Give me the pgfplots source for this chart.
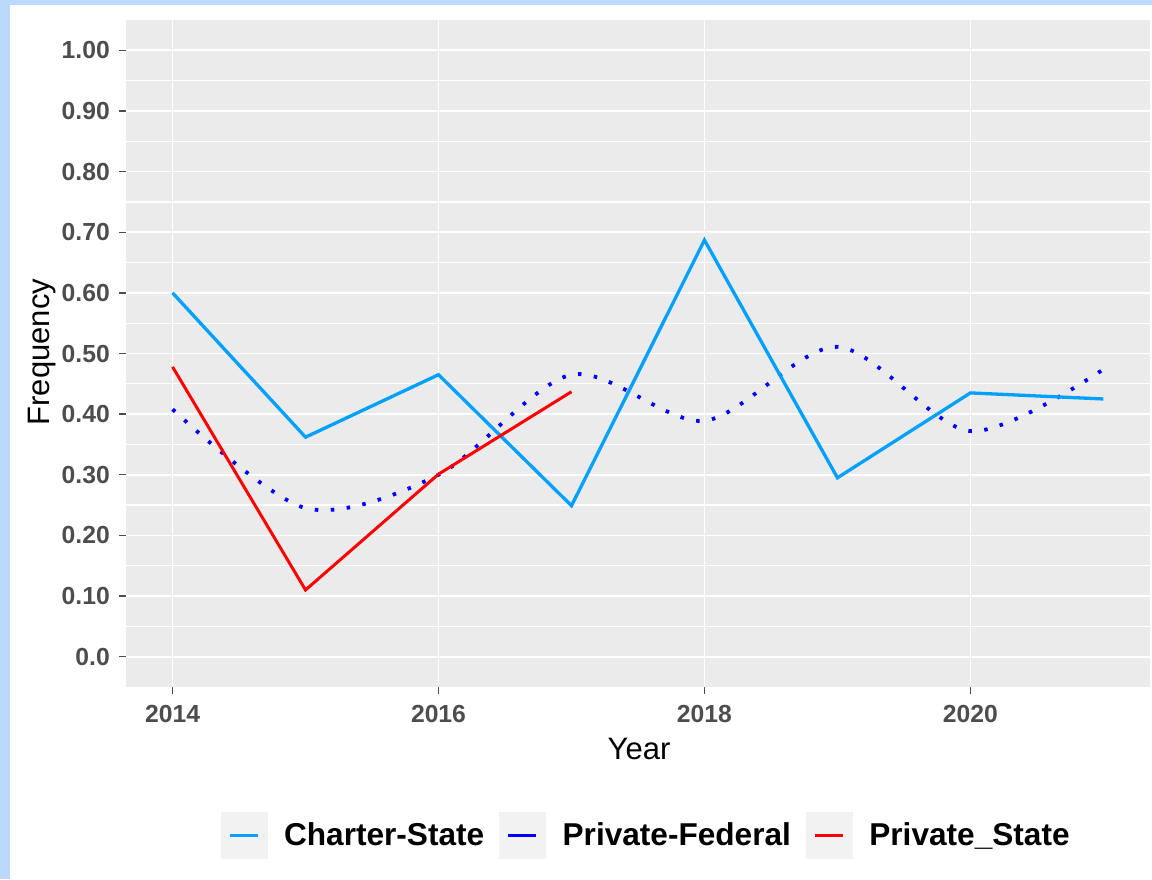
\documentclass[border=0pt]{standalone}
\usepackage{fontspec}
\setmainfont{Liberation Sans}
\usepackage{pgfplots}
\pgfplotsset{compat=1.18}
\definecolor{charter}{RGB}{0,160,255}
\definecolor{pfed}{RGB}{0,0,255}
\definecolor{pstate}{RGB}{255,0,0}
\definecolor{panelbg}{RGB}{235,235,235}
\definecolor{legbg}{RGB}{242,242,242}
\definecolor{tickcol}{RGB}{77,77,77}
\definecolor{framecol}{RGB}{187,217,252}
\begin{document}
\begin{tikzpicture}[x=1pt,y=1pt]
\fill[white] (0,0) rectangle (1152,879);
\fill[framecol] (0,0) rectangle (10,879);
\fill[framecol] (0,874) rectangle (1152,879);
\begin{axis}[
  at={(126pt,192pt)}, anchor=south west,
  scale only axis, width=1024pt, height=667pt,
  xmin=2013.65, xmax=2021.35, ymin=-0.05, ymax=1.05,
  axis background/.style={fill=panelbg},
  axis line style={draw=none},
  xtick={2014,2016,2018,2020},
  xticklabels={2014,2016,2018,2020},
  ytick={0,0.1,0.2,0.3,0.4,0.5,0.6,0.7,0.8,0.9,1.0},
  yticklabels={0.0,0.10,0.20,0.30,0.40,0.50,0.60,0.70,0.80,0.90,1.00},
  minor ytick={0.05,0.15,0.25,0.35,0.45,0.55,0.65,0.75,0.85,0.95},
  grid=both,
  major grid style={white, line width=1.8pt},
  minor grid style={white, line width=1.3pt},
  xtick pos=left, ytick pos=left,
  tick align=outside,
  major tick length=7pt,
  minor tick length=0pt,
  tick style={tickcol, line width=1.3pt},
  /pgf/number format/assume math mode=true,
  ticklabel style={font=\fontsize{24.7}{28}\selectfont\bfseries, text=tickcol},
  yticklabel style={anchor=east, inner sep=0pt, xshift=-9pt},
  xticklabel style={anchor=base, inner sep=0pt, yshift=-28pt},
  xlabel={Year},
  ylabel={Frequency},
  label style={font=\fontsize{31}{34}\selectfont},
  xlabel style={at={(axis description cs:0.501,0)}, anchor=base, yshift=-72pt},
  ylabel style={at={(axis description cs:0,0.502)}, anchor=base, yshift=76pt},
  legend columns=3,
  legend style={draw=none, fill=none, at={(0.507,-0.2219)}, anchor=center,
    font=\fontsize{31.6}{34}\selectfont\bfseries, inner sep=0pt,
    nodes={inner sep=0pt},
    /tikz/every odd column/.append style={column sep=17pt},
    /tikz/every even column/.append style={column sep=15pt}},
  legend image code/.code={
    \fill[legbg] (0pt,-23pt) rectangle (46pt,23pt);
    \draw[#1, line width=3pt] (9pt,0pt) -- (37pt,0pt);
  },
]
\addlegendimage{charter}
\addlegendentry{Charter-State}
\addlegendimage{pfed}
\addlegendentry{Private-Federal}
\addlegendimage{pstate}
\addlegendentry{Private\_State}

\addplot[forget plot, pfed, line width=3.8pt, dash pattern=on 3.5pt off 12.5pt, smooth] coordinates {
(2014,0.408) (2015,0.245) (2016,0.300) (2017,0.465) (2018,0.389) (2019,0.511) (2020,0.372) (2021,0.474)
};
\addplot[forget plot, charter, line width=3.3pt] coordinates {
(2014,0.600) (2015,0.362) (2016,0.465) (2017,0.249) (2018,0.687) (2019,0.295) (2020,0.435) (2021,0.425)
};
\addplot[forget plot, pstate, line width=3pt] coordinates {
(2014,0.478) (2015,0.110) (2016,0.301) (2017,0.437)
};
\end{axis}
\end{tikzpicture}
\end{document}
